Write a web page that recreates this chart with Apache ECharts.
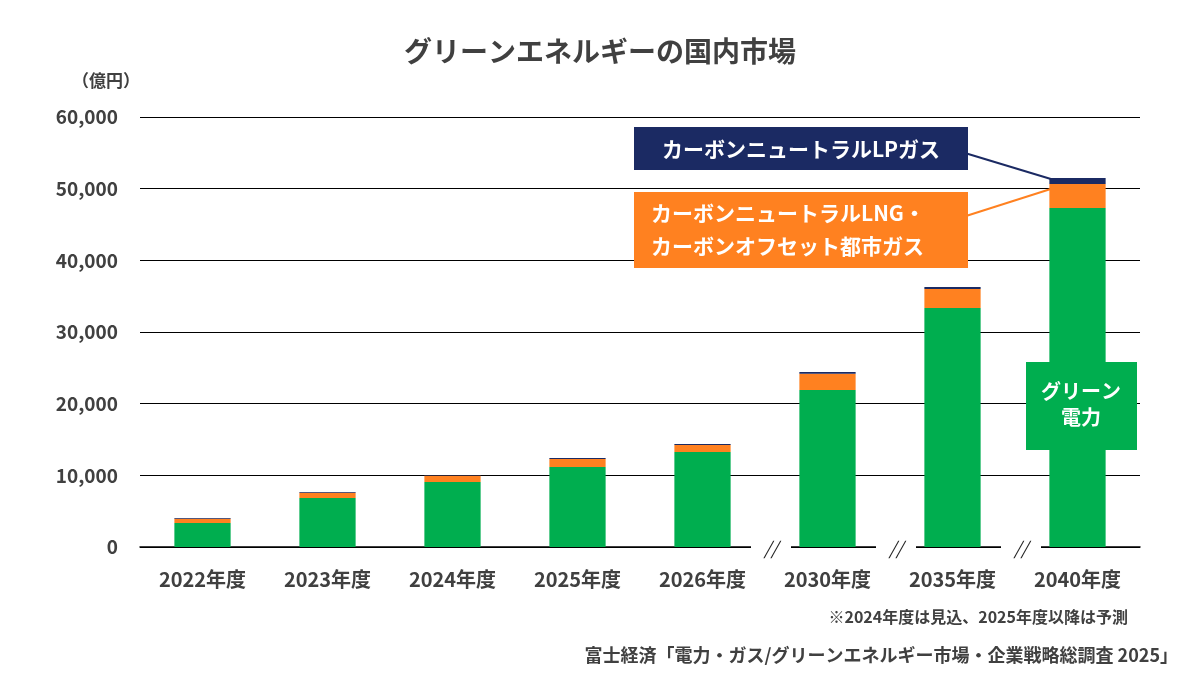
<!DOCTYPE html>
<html><head><meta charset="utf-8">
<script src="https://cdn.jsdelivr.net/npm/echarts@6/dist/echarts.min.js"></script>
<style>html,body{margin:0;padding:0;background:#fff}#main{width:1200px;height:675px}</style>
</head><body><div id="main"></div>
<script>
var years = ['2022年度','2023年度','2024年度','2025年度','2026年度','2030年度','2035年度','2040年度'];
var green = [3350, 6840, 9070, 11160, 13260, 21900, 33350, 47300];
var lng = [600, 740, 880, 1120, 970, 2280, 2650, 3350];
var lpg = [100, 90, 50, 140, 140, 240, 280, 840];
var FONT = '"Noto Sans CJK JP", sans-serif';

var chart = echarts.init(document.getElementById('main'));
var option = {
    animation: false,
    textStyle: { fontFamily: FONT },
    title: {
        text: 'グリーンエネルギーの国内市場',
        left: 'center', top: 32,
        textStyle: { fontSize: 28, fontWeight: 'bold', color: '#404040', fontFamily: FONT }
    },
    grid: { left: 140, right: 60, top: 117, bottom: 128 },
    xAxis: {
        type: 'category',
        data: years,
        axisLine: { lineStyle: { color: '#000', width: 1.5 } },
        axisTick: { show: false },
        axisLabel: { color: '#404040', fontSize: 20, fontWeight: 'bold', margin: 22 }
    },
    yAxis: {
        type: 'value',
        min: 0, max: 60000, interval: 10000,
        name: '（億円）',
        nameLocation: 'end',
        nameGap: 28,
        nameTextStyle: { color: '#404040', fontSize: 17, fontWeight: 'bold', align: 'right' },
        axisLine: { show: false },
        axisTick: { show: false },
        splitLine: { lineStyle: { color: '#000', width: 1 } },
        axisLabel: {
            color: '#404040', fontSize: 19, fontWeight: 'bold', margin: 22,
            formatter: function (v) { return v.toLocaleString('en-US'); }
        }
    },
    series: [
        { name: 'グリーン電力', type: 'bar', stack: 's', data: green, barWidth: '45%', itemStyle: { color: '#00AE4F' } },
        { name: 'LNG', type: 'bar', stack: 's', data: lng, itemStyle: { color: '#FF8120' } },
        { name: 'LPガス', type: 'bar', stack: 's', data: lpg, itemStyle: { color: '#1B2A63' } }
    ]
};
chart.setOption(option);

// annotations
var g = [];
var top40 = green[7] + lng[7] + lpg[7];
var pNavy = chart.convertToPixel({ seriesIndex: 0 }, [7, top40 - lpg[7] / 2]);
var pOr = chart.convertToPixel({ seriesIndex: 0 }, [7, green[7] + lng[7] * 0.8]);
var half = 28;
g.push({ type: 'line', shape: { x1: 955, y1: 150, x2: pNavy[0] - half + 8, y2: pNavy[1] }, style: { stroke: '#1B2A63', lineWidth: 2 } });
g.push({ type: 'line', shape: { x1: 966, y1: 216, x2: pOr[0] - half + 2, y2: pOr[1] }, style: { stroke: '#FF8120', lineWidth: 2 } });
g.push({ type: 'rect', shape: { x: 634, y: 127, width: 334, height: 43 }, style: { fill: '#1B2A63' }, z: 10 });
g.push({ type: 'text', x: 801, y: 149, style: { text: 'カーボンニュートラルLPガス', fill: '#fff', font: 'bold 21px ' + FONT, align: 'center', verticalAlign: 'middle' }, z: 11 });
g.push({ type: 'rect', shape: { x: 634, y: 192, width: 334, height: 76 }, style: { fill: '#FF8120' }, z: 10 });
g.push({ type: 'text', x: 651, y: 230, style: { text: 'カーボンニュートラルLNG・\nカーボンオフセット都市ガス', fill: '#fff', font: 'bold 21px ' + FONT, lineHeight: 33, align: 'left', verticalAlign: 'middle' }, z: 11 });
g.push({ type: 'rect', shape: { x: 1026, y: 362, width: 111, height: 88 }, style: { fill: '#00AE4F' }, z: 10 });
g.push({ type: 'text', x: 1081, y: 404, style: { text: 'グリーン\n電力', fill: '#fff', font: 'bold 20px ' + FONT, lineHeight: 26, align: 'center', verticalAlign: 'middle' }, z: 11 });

// axis break marks
[4, 5, 6].forEach(function (i) {
    var a = chart.convertToPixel({ xAxisIndex: 0 }, years[i]);
    var b = chart.convertToPixel({ xAxisIndex: 0 }, years[i + 1]);
    var y0 = chart.convertToPixel({ yAxisIndex: 0 }, 0);
    var mx = (a + b) / 2 + 6;
    g.push({ type: 'rect', shape: { x: mx - 20, y: y0 - 3, width: 40, height: 6 }, style: { fill: '#fff' }, z: 12 });
    g.push({ type: 'text', x: mx, y: y0 + 1, style: { text: '//', fill: '#222', font: 'italic 18px ' + FONT, align: 'center', verticalAlign: 'middle' }, z: 13 });
});

g.push({ type: 'text', x: 1128, y: 617, style: { text: '※2024年度は見込、2025年度以降は予測', fill: '#404040', font: 'bold 16px ' + FONT, align: 'right', verticalAlign: 'middle' } });
g.push({ type: 'text', x: 1178, y: 655, style: { text: '富士経済「電力・ガス/グリーンエネルギー市場・企業戦略総調査 2025」', fill: '#404040', font: 'bold 18px ' + FONT, align: 'right', verticalAlign: 'middle' } });
chart.setOption({ graphic: g });
</script>
</body></html>
